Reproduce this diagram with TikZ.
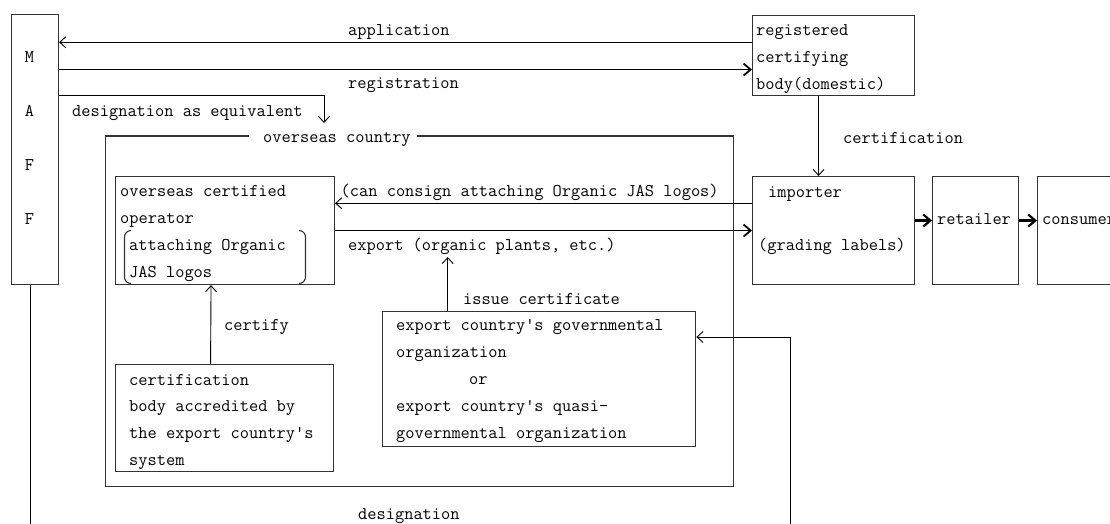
\documentclass[tikz,border=0pt]{standalone}
\usepackage{fontspec}
\usetikzlibrary{arrows.meta,calc}
\begin{document}
\begin{tikzpicture}[x=1pt,y=-1pt,
  txt/.style={font=\fontsize{17.9pt}{20pt}\ttfamily, inner sep=0pt, anchor=base west},
  box/.style={draw=black!80, line width=1.1pt, inner sep=0pt, anchor=north west},
  conn/.style={draw=black, line width=0.9pt},
  bracketline/.style={draw=black!80, line width=1.1pt},
  thinarr/.style={conn, -{Straight Barb[length=6pt,width=11pt,line width=0.9pt]}},
  boldarr/.style={conn, -{Straight Barb[length=7pt,width=12pt,line width=1.8pt]}},
  thickarr/.style={draw=black, line width=2.4pt, -{Straight Barb[length=7pt,width=12pt,line width=2.2pt]}},
]
\clip (0,0) rectangle (1110,523);
\fill[white] (0,0) rectangle (1110,523);

% boxes
\node[box, minimum width=47.3pt, minimum height=270pt] (maff) at (10.7,14) {};
\node[box, minimum width=162pt, minimum height=80pt] (reg) at (752,15) {};
\node[box, minimum width=162pt, minimum height=108pt] (imp) at (752,176) {};
\node[box, minimum width=86pt, minimum height=108pt] (ret) at (932,176) {};
\node[box, minimum width=100pt, minimum height=108pt] (con) at (1037,176) {};
\node[box, minimum width=219pt, minimum height=108pt] (op) at (115,176) {};
\node[box, minimum width=313.6pt, minimum height=135pt] (gov) at (381.7,310.7) {};
\node[box, minimum width=218pt, minimum height=107pt] (cb) at (115,364) {};
\node[inner sep=0pt, anchor=north west, minimum width=627.3pt, minimum height=350pt] (ovs) at (105.7,136) {};

% overseas country frame with title
\node[txt] (ovstitle) at (263,142.7) {overseas country};
\draw[bracketline] ([xshift=-14pt]ovstitle.west |- ovs.north) -| (ovs.south west) -| (ovs.north east) -- ([xshift=6pt]ovstitle.east |- ovs.north);

% MAFF letters
\node[txt, anchor=base] (m1) at (29.5,62.7) {M};
\node[txt, anchor=base] (m2) at (29.5,116.7) {A};
\node[txt, anchor=base] (m3) at (29.5,170) {F};
\node[txt, anchor=base] (m4) at (29.5,224) {F};

% registered certifying body
\node[txt] (r1) at (756,35) {registered};
\node[txt] (r2) at (756,62) {certifying};
\node[txt] (r3) at (756,89) {body(domestic)};

% importer, retailer, consumer
\node[txt] (i1) at (768,197) {importer};
\node[txt] (i2) at (758,250) {(grading labels)};
\node[txt] (re1) at (937,224) {retailer};
\node[txt] (co1) at (1042,224) {consumer};

% operator
\node[txt] (o1) at (120,196.7) {overseas certified};
\node[txt] (o2) at (120,223.5) {operator};
\node[txt] (o3) at (129,250.7) {attaching Organic};
\node[txt] (o4) at (129,277) {JAS logos};
\draw[bracketline] (131,230.5) to[out=180,in=90] (124.5,237) -- (124.5,277) to[out=-90,in=180] (131,283.5);
\draw[bracketline] (299,230.5) to[out=0,in=90] (305.5,237) -- (305.5,277) to[out=-90,in=0] (299,283.5);

% governmental organization
\node[txt] (g1) at (396,330.7) {export country's governmental};
\node[txt] (g2) at (396,357.5) {organization};
\node[txt] (g3) at (469,384.5) {or};
\node[txt] (g4) at (396,411.5) {export country's quasi-};
\node[txt] (g5) at (396,438.5) {governmental organization};

% certification body
\node[txt] (c1) at (129,385) {certification};
\node[txt] (c2) at (129,411.7) {body accredited by};
\node[txt] (c3) at (129,438.7) {the export country's};
\node[txt] (c4) at (129,465) {system};

% connector labels
\node[txt] (lapp) at (348,35) {application};
\node[txt] (lreg) at (348,88.5) {registration};
\node[txt] (ldeq) at (72,116) {designation as equivalent};
\node[txt] (lcert) at (843,143) {certification};
\node[txt] (lcons) at (340.5,196.3) {(can consign attaching Organic JAS logos)};
\node[txt] (lexp) at (348,250.7) {export (organic plants, etc.)};
\node[txt] (liss) at (463,304) {issue certificate};
\node[txt] (lcfy) at (224,330) {certify};
\node[txt] (ldes) at (358,519) {designation};

% connectors
\coordinate (appR) at ([yshift=13.3pt]reg.west);
\draw[thinarr] (appR) -- (appR -| maff.east);
\coordinate (regR) at ([yshift=-14pt]reg.west);
\draw[boldarr] (regR -| maff.east) -- (regR);
\coordinate (deqA) at (324,95.7);
\coordinate (deqE) at (324,123);
\draw[thinarr] (deqA -| maff.east) -- (deqA) -- (deqE);
\draw[thinarr] ([xshift=-15pt]reg.south) -- ([xshift=-15pt]imp.north);
\coordinate (consR) at ([yshift=27.3pt]imp.west);
\draw[thinarr] (consR) -- (consR -| op.east);
\draw[boldarr] (op.east) -- (imp.west);
\draw[thickarr] ([yshift=10pt]imp.east) -- ([yshift=10pt]ret.west);
\draw[thickarr] ([yshift=10pt]ret.east) -- ([yshift=10pt]con.west);
\coordinate (issT) at (447.7,257);
\draw[thinarr] (gov.north -| issT) -- (issT);
\draw[thinarr] ([xshift=-14pt]cb.north) -- ([xshift=-14pt]op.south);
\coordinate (dlow) at (790,545);
\coordinate (dcorner) at (790,337);
\draw[thinarr] ([xshift=-4.3pt]maff.south) |- (dlow) -- (dcorner) -- (dcorner -| gov.east);
\end{tikzpicture}
\end{document}
